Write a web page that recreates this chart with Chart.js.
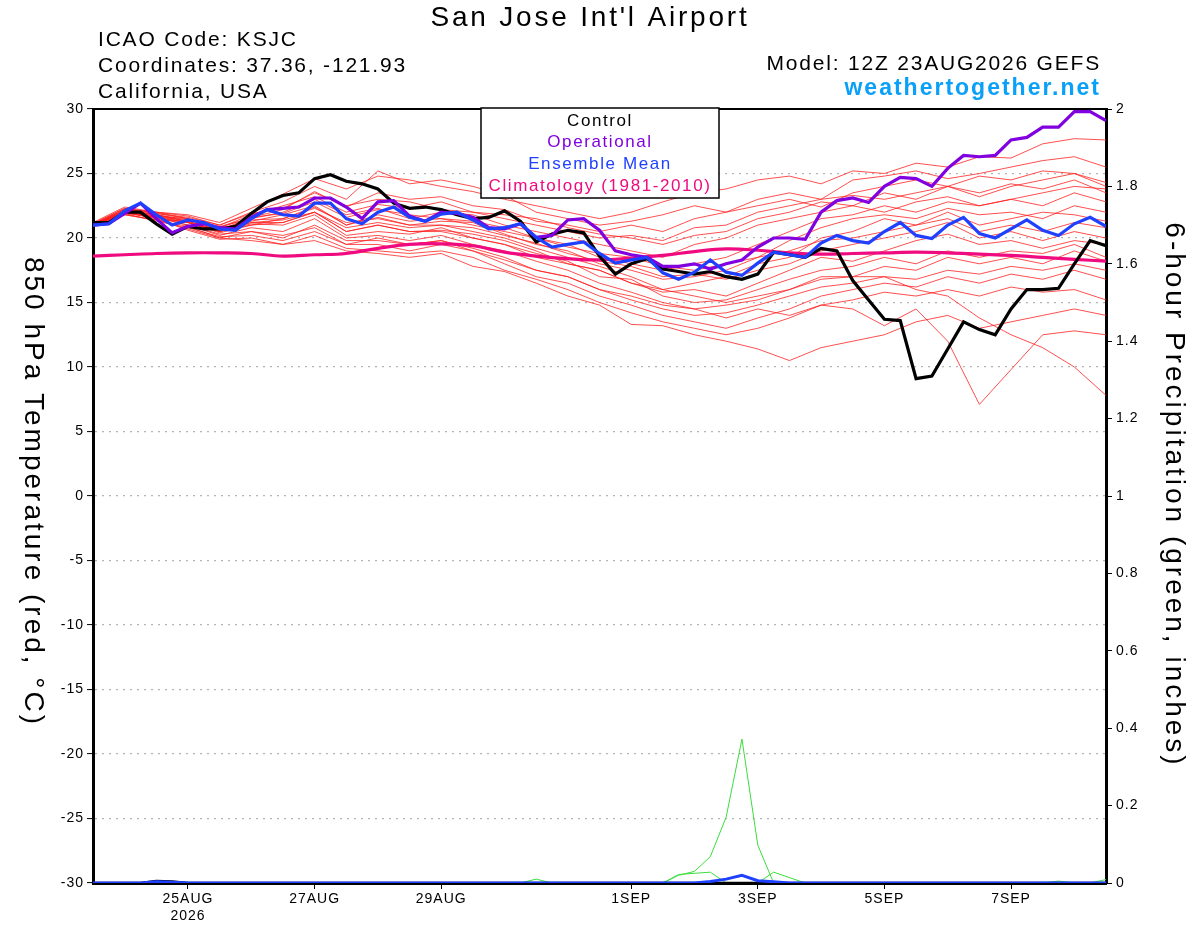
<!DOCTYPE html>
<html><head><meta charset="utf-8">
<script src="https://cdn.jsdelivr.net/npm/chart.js@4.4.1/dist/chart.umd.min.js"></script>
<style>html,body{margin:0;padding:0;background:#fff;overflow:hidden}#wrap{width:1200px;height:927px;position:relative}</style>
</head><body><div id="wrap"><canvas id="c" width="1200" height="927"></canvas></div>
<script>
// ---- x axis (hours after 12Z 23AUG2026) ----
const tickHours = [36, 84, 132, 204, 252, 300, 348];
const tickLabels = [['25AUG', '2026'], '27AUG', '29AUG', '1SEP', '3SEP', '5SEP', '7SEP'];

// ---- 850 hPa temperature, 6-hourly (deg C) ----
const controlTemp = [21.2,21.2,22.0,22.0,21.1,20.3,20.9,20.7,20.7,20.9,21.9,22.8,23.3,23.5,24.6,24.9,24.4,24.2,23.8,22.7,22.3,22.4,22.2,21.8,21.5,21.6,22.1,21.3,19.7,20.3,20.6,20.4,18.6,17.2,18.0,18.4,17.6,17.4,17.2,17.4,17.0,16.8,17.2,18.9,18.7,18.5,19.2,19.0,16.7,15.2,13.7,13.6,9.1,9.3,11.4,13.5,12.9,12.5,14.5,16.0,16.0,16.1,18.0,19.8,19.4];
const operationalTemp = [21.0,21.1,21.9,22.7,21.5,20.4,20.9,21.1,20.8,20.7,21.6,22.2,22.3,22.4,23.1,23.1,22.4,21.5,22.8,22.9,21.7,21.3,22.0,21.9,21.6,20.8,20.7,21.1,20.05,20.2,21.4,21.5,20.6,19.0,18.7,18.5,17.8,17.8,18.0,17.6,18.0,18.3,19.3,20.0,20.0,19.9,22.0,22.9,23.1,22.75,24.0,24.7,24.6,24.0,25.4,26.4,26.3,26.4,27.6,27.8,28.6,28.6,29.8,29.8,29.1];
const meanTemp = [21.0,21.1,22.1,22.7,21.8,21.0,21.4,21.2,20.7,20.6,21.5,22.2,21.8,21.7,22.7,22.7,21.5,21.1,22.0,22.4,21.6,21.3,21.85,22.0,21.4,20.7,20.8,21.1,20.05,19.3,19.5,19.7,18.8,18.05,18.3,18.5,17.3,16.8,17.35,18.3,17.35,17.1,18.05,18.9,18.7,18.5,19.6,20.2,19.8,19.6,20.5,21.2,20.2,19.96,21.0,21.6,20.35,20.0,20.7,21.4,20.6,20.2,21.1,21.6,20.9];

// ---- climatology and ensemble members, 12-hourly ----
const climoTemp = [18.6,18.7,18.8,18.85,18.85,18.8,18.6,18.7,18.8,19.2,19.5,19.55,19.4,18.9,18.6,18.4,18.3,18.45,18.65,18.95,19.15,19.05,18.85,18.75,18.8,18.85,18.9,18.85,18.75,18.65,18.5,18.35,18.2];
const ens01 = [21.2,22.4,22.0,21.8,21.2,22.3,23.4,24.6,23.8,24.8,24.5,24.0,23.6,23.0,22.5,22.0,21.5,22.0,22.8,23.5,23.8,24.5,24.8,24.2,25.2,25.0,25.8,25.5,26.3,26.2,27.3,27.7,27.6];
const ens02 = [21.1,22.3,21.9,21.6,21.0,22.0,22.8,24.0,23.0,25.2,24.2,24.5,24.0,23.3,22.0,21.5,21.0,21.3,21.8,22.5,22.0,23.0,23.5,23.0,24.5,24.8,25.2,24.6,25.0,25.5,26.0,26.3,25.5];
const ens03 = [21.0,22.2,21.8,21.3,20.6,21.6,22.2,23.6,22.4,23.5,23.0,23.2,22.5,22.2,21.3,21.0,20.5,21.0,20.5,21.5,22.0,22.5,23.0,22.4,23.5,24.0,24.5,24.0,24.8,24.5,25.2,25.0,24.3];
const ens04 = [21.0,22.0,21.7,21.5,20.8,21.8,22.5,23.2,22.0,22.6,22.3,22.8,22.0,21.8,21.5,20.8,20.3,20.0,19.5,20.2,20.5,21.5,22.0,22.8,22.5,23.5,23.0,24.0,23.5,24.2,23.8,24.5,23.5];
const ens05 = [21.1,22.3,22.0,21.5,20.9,21.5,22.0,23.0,21.8,22.3,21.5,22.0,21.8,21.0,20.5,20.0,19.5,19.0,18.5,19.5,20.0,21.0,21.5,22.0,22.5,22.0,22.8,23.2,22.5,23.0,23.5,24.0,23.8];
const ens06 = [20.9,22.0,21.6,21.2,20.5,21.3,21.8,22.5,21.0,21.8,21.3,21.5,21.0,20.5,20.0,19.5,18.5,18.0,17.5,18.0,18.5,19.5,20.5,21.5,21.8,22.5,22.0,22.8,22.5,23.0,22.5,23.5,22.8];
const ens07 = [21.0,22.1,21.8,21.4,20.7,21.4,21.5,22.3,21.2,21.5,21.0,21.3,21.2,20.3,19.5,19.0,18.0,17.5,16.8,17.0,17.5,18.5,19.8,20.8,21.5,21.8,21.5,22.3,21.8,22.0,21.5,22.5,22.0];
const ens08 = [21.0,22.0,21.5,21.2,20.5,21.0,21.2,22.0,20.8,21.2,20.8,21.0,20.5,20.0,19.2,18.5,17.8,17.0,16.0,16.5,17.0,18.0,18.5,20.0,20.5,21.5,21.0,22.0,21.0,21.5,22.0,21.8,21.3];
const ens09 = [21.1,22.2,21.9,21.5,20.8,21.6,21.9,22.8,21.6,22.2,21.8,21.5,21.3,20.8,20.0,19.3,18.8,18.5,17.8,17.5,18.0,18.5,19.0,19.8,20.0,20.5,21.0,21.5,20.5,21.0,20.5,21.2,20.8];
const ens10 = [20.9,21.9,21.6,21.2,20.4,21.0,21.5,22.4,21.0,21.6,21.0,21.0,20.8,20.2,19.6,18.8,18.2,17.8,17.0,17.2,16.8,17.5,18.0,19.0,19.5,20.0,20.5,21.2,20.0,20.5,19.8,20.5,20.0];
const ens11 = [21.0,22.0,21.7,21.3,20.6,21.2,21.4,22.0,20.5,21.0,20.5,20.6,20.3,19.8,19.0,18.0,17.5,16.5,15.8,16.0,15.5,16.5,17.5,18.5,18.2,19.0,19.8,20.3,19.5,19.8,19.2,19.8,19.5];
const ens12 = [21.0,22.1,21.7,21.2,20.5,21.1,21.0,21.8,20.2,20.5,20.3,20.8,20.0,19.5,18.8,18.2,17.0,16.8,15.5,15.0,15.2,16.0,16.8,17.5,17.8,18.5,18.0,19.0,18.5,19.0,18.8,19.5,18.5];
const ens13 = [21.0,22.0,21.6,21.0,20.2,20.8,20.5,21.5,20.0,20.2,19.8,20.2,19.5,19.0,18.2,17.5,16.5,15.8,15.0,14.5,14.8,15.2,16.0,17.0,17.0,17.8,17.5,18.5,18.0,18.5,18.0,19.0,18.2];
const ens14 = [20.9,21.8,21.4,20.9,20.0,20.5,20.0,21.0,19.8,19.8,19.5,19.8,19.2,18.5,17.5,17.0,16.0,15.2,14.5,14.0,14.2,14.8,15.5,16.2,16.5,17.0,16.8,17.5,17.2,17.8,17.5,18.0,17.5];
const ens15 = [21.0,21.9,21.3,20.8,20.1,20.2,19.8,20.5,19.5,19.5,19.0,19.5,19.0,18.0,17.0,16.5,15.5,14.8,14.0,13.5,13.0,13.8,14.5,15.5,16.0,16.5,16.2,17.0,16.5,17.2,16.8,17.5,16.8];
const ens16 = [21.0,22.0,21.5,20.6,19.9,20.0,19.5,20.2,19.2,19.0,18.8,19.0,18.5,17.5,16.8,16.0,15.0,14.2,13.5,13.0,12.5,13.0,13.8,14.8,15.2,15.8,15.5,16.0,15.5,16.2,15.8,16.0,15.2];
const ens17 = [21.0,21.8,21.4,20.7,20.0,19.8,19.5,19.8,19.0,18.8,18.5,18.8,17.8,17.4,16.5,15.5,14.8,13.3,13.2,12.5,12.0,11.4,10.5,11.5,12.0,12.5,13.5,14.0,13.0,13.5,14.0,14.5,14.0];
const ens18 = [21.1,22.0,21.6,21.0,20.3,20.5,20.2,20.8,19.5,20.0,19.5,19.8,19.0,18.3,17.5,17.0,16.0,15.5,14.8,14.5,13.8,14.5,14.0,14.8,14.5,13.2,14.5,12.0,7.1,9.8,12.5,12.8,12.5];
const ens19 = [21.0,22.1,21.8,21.3,20.5,21.2,21.2,22.0,20.5,21.0,20.5,20.5,20.0,19.5,18.5,18.0,17.5,16.5,16.0,15.5,15.0,15.5,16.0,16.8,17.0,17.0,16.0,15.5,13.8,12.5,11.5,10.0,7.8];
const ens20 = [21.0,22.2,22.0,21.7,21.0,21.9,22.3,23.5,22.5,23.0,22.8,22.2,22.0,21.5,21.0,20.5,20.0,20.2,19.8,20.8,21.0,22.0,22.5,23.0,23.3,23.0,23.5,24.0,23.2,24.0,24.5,25.0,24.0];
const ensembleMembers = [ens01,ens02,ens03,ens04,ens05,ens06,ens07,ens08,ens09,ens10,ens11,ens12,ens13,ens14,ens15,ens16,ens17,ens18,ens19,ens20];

// ---- 6-hour precipitation (inches), sparse: hours / values ----
const ctrlPrecipHours = [0, 18, 24, 30, 36, 384];
const ctrlPrecip      = [0, 0, 0.005, 0.004, 0, 0];
const meanPrecipHours = [0, 18, 24, 30, 36, 228, 234, 240, 246, 252, 258, 264, 384];
const meanPrecip      = [0, 0, 0.003, 0.002, 0, 0, 0.004, 0.01, 0.02, 0.006, 0.003, 0, 0];
const precipA_Hours = [0, 216, 222, 228, 234, 240, 246, 252, 258, 384];
const precipA       = [0, 0, 0.02, 0.03, 0.068, 0.17, 0.372, 0.098, 0, 0];
const precipB_Hours = [0, 216, 222, 228, 234, 240, 384];
const precipB       = [0, 0, 0.022, 0.025, 0.028, 0, 0];
const precipC_Hours = [0, 252, 258, 264, 270, 384];
const precipC       = [0, 0, 0.028, 0.014, 0, 0];
const precipD_Hours = [0, 162, 168, 174, 384];
const precipD       = [0, 0, 0.01, 0, 0];
const precipE_Hours = [0, 360, 366, 372, 378, 384];
const precipE       = [0, 0, 0.005, 0, 0, 0.009];

// ---- build ----
const hours6 = controlTemp.map((_, i) => i * 6);
const hours12 = climoTemp.map((_, i) => i * 12);
const pts = (xs, ys) => ys.map((y, i) => ({x: xs[i], y}));
const FONT = '"Liberation Sans", Arial, Helvetica, sans-serif';

const line = (data, color, width, axis) => ({
  data, borderColor: color, backgroundColor: color, borderWidth: width,
  pointRadius: 0, pointHoverRadius: 0, fill: false, tension: 0, yAxisID: axis || 'y'
});

const datasets = [];
datasets.push(line(pts(hours6, meanTemp), 'rgb(32,64,255)', 3.2));
datasets.push(line(pts(hours6, operationalTemp), 'rgb(128,0,224)', 3.2));
datasets.push(line(pts(hours6, controlTemp), '#000000', 3.2));
datasets.push(Object.assign(line(pts(hours12, climoTemp), 'rgb(240,10,128)', 3.2), {tension: 0.4}));
datasets.push(line(pts(meanPrecipHours, meanPrecip), 'rgb(32,64,255)', 3, 'y2'));
datasets.push(line(pts(ctrlPrecipHours, ctrlPrecip), '#000000', 2.5, 'y2'));
[[precipA_Hours, precipA], [precipB_Hours, precipB], [precipC_Hours, precipC], [precipD_Hours, precipD], [precipE_Hours, precipE]]
  .forEach(([h, v]) => datasets.push(line(pts(h, v), 'rgb(60,220,60)', 1, 'y2')));
ensembleMembers.forEach(m => datasets.push(line(pts(hours12, m), 'rgba(255,30,30,0.78)', 1)));

const spacing = {
  id: 'spacing',
  beforeDraw(chart) { chart.ctx.letterSpacing = '1px'; }
};

const decor = {
  id: 'decor',
  afterDatasetsDraw(chart) {
    const ctx = chart.ctx;
    const a = chart.chartArea;
    ctx.save();
    ctx.strokeStyle = '#000'; ctx.lineWidth = 2;
    ctx.beginPath(); ctx.moveTo(a.left, a.top); ctx.lineTo(a.right, a.top); ctx.stroke();
    // legend box
    ctx.fillStyle = '#fff';
    ctx.fillRect(481, 108, 238, 90);
    ctx.lineWidth = 1.5; ctx.strokeStyle = '#000';
    ctx.strokeRect(481, 108, 238, 90);
    ctx.letterSpacing = '1.6px';
    ctx.font = '17px ' + FONT; ctx.textAlign = 'center'; ctx.textBaseline = 'middle';
    const leg = [['Control', '#000'], ['Operational', 'rgb(128,0,224)'], ['Ensemble Mean', 'rgb(32,64,255)'], ['Climatology (1981-2010)', 'rgb(240,10,128)']];
    leg.forEach((l, i) => { ctx.fillStyle = l[1]; ctx.fillText(l[0], 600, 121 + i * 21.7); });
    // titles
    ctx.fillStyle = '#000';
    ctx.letterSpacing = '2.8px';
    ctx.font = '28px ' + FONT; ctx.textAlign = 'center';
    ctx.fillText("San Jose Int'l Airport", 590, 18);
    ctx.letterSpacing = '1.8px';
    ctx.font = '21px ' + FONT; ctx.textAlign = 'left';
    ctx.fillText('ICAO Code: KSJC', 98, 40);
    ctx.fillText('Coordinates: 37.36, -121.93', 98, 66);
    ctx.fillText('California, USA', 98, 92);
    ctx.textAlign = 'right';
    ctx.fillText('Model: 12Z 23AUG2026 GEFS', 1101, 64);
    ctx.letterSpacing = '2px';
    ctx.fillStyle = '#0aa0f8'; ctx.font = 'bold 23px ' + FONT;
    ctx.fillText('weathertogether.net', 1101, 89);
    // axis titles (rotated, reading top to bottom)
    ctx.letterSpacing = '3px';
    ctx.fillStyle = '#000'; ctx.font = '28px ' + FONT; ctx.textAlign = 'center';
    ctx.save(); ctx.translate(33, 492); ctx.rotate(Math.PI / 2);
    ctx.fillText('850 hPa Temperature (red, \u00B0C)', 0, 0); ctx.restore();
    ctx.save(); ctx.translate(1174, 495); ctx.rotate(Math.PI / 2);
    ctx.fillText('6-hour Precipitation (green, inches)', 0, 0); ctx.restore();
    ctx.restore();
    ctx.letterSpacing = '1px';
  }
};

new Chart(document.getElementById('c'), {
  type: 'line',
  data: {datasets},
  options: {
    responsive: false, animation: false, devicePixelRatio: 1,
    layout: {padding: {top: 109, left: 0, right: 0, bottom: 0}},
    plugins: {legend: {display: false}, tooltip: {enabled: false}, title: {display: false}},
    scales: {
      x: {
        type: 'linear', position: 'bottom', min: 0, max: 384,
        afterBuildTicks: s => { s.ticks = tickHours.map(v => ({value: v})); },
        afterFit: s => { s.height = 44; },
        ticks: {
          autoSkip: false, maxRotation: 0, color: '#000', padding: 2,
          font: {family: FONT, size: 14}, callback: v => { const i = tickHours.indexOf(v); return i >= 0 ? tickLabels[i] : ''; }
        },
        grid: {drawOnChartArea: false, drawTicks: true, tickLength: 6, tickColor: '#000', tickWidth: 1},
        border: {color: '#000', width: 3}
      },
      y: {
        position: 'left', min: -30, max: 30,
        afterFit: s => { s.width = 93; },
        ticks: {stepSize: 5, color: '#000', padding: 3, font: {family: FONT, size: 14}},
        grid: {color: '#b4b4b4', lineWidth: 1.2, tickColor: '#000', tickLength: 6, tickWidth: 1},
        border: {color: '#000', width: 3, dash: [2, 5]}
      },
      y2: {
        position: 'right', min: 0, max: 2,
        afterFit: s => { s.width = 94; },
        ticks: {stepSize: 0.2, color: '#000', padding: 4, font: {family: FONT, size: 14},
          callback: v => String(Math.round(v * 10) / 10)},
        grid: {drawOnChartArea: false, tickColor: '#000', tickLength: 6, tickWidth: 1},
        border: {color: '#000', width: 3}
      }
    }
  },
  plugins: [spacing, decor]
});
</script>
</body></html>
